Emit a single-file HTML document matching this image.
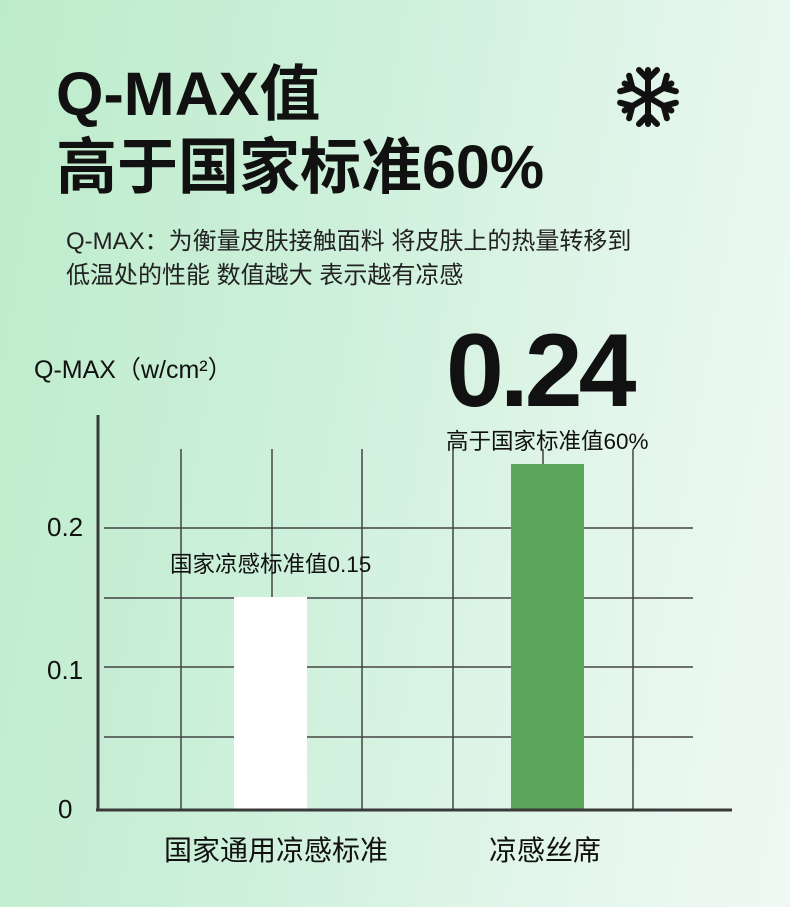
<!DOCTYPE html><html><head><meta charset="utf-8"><style>
body{margin:0;width:790px;height:907px;overflow:hidden;position:relative;font-family:"Liberation Sans","Noto Sans CJK SC",sans-serif;color:#111;
background:linear-gradient(100deg,#bdeccb 0%,#cdf0da 40%,#e4f6ec 75%,#eef9f3 100%);}
.t{position:absolute;white-space:nowrap}
</style></head><body>
<div class="t" style="left:56px;top:58px;font-size:61px;font-weight:bold;line-height:73px">Q-MAX值<br>高于国家标准60%</div>
<div class="t" style="left:66px;top:225px;font-size:24px;line-height:34px;color:#222">Q-MAX：为衡量皮肤接触面料 将皮肤上的热量转移到<br>低温处的性能 数值越大 表示越有凉感</div>
<svg style="position:absolute;left:0;top:0" width="790" height="907">
<g stroke="#111" stroke-width="6" stroke-linecap="round" fill="none" transform="translate(648,97)">
<g id="a"><line x1="0" y1="-27" x2="0" y2="27"/><path d="M-9,-27 L0,-18 L9,-27 M-9,27 L0,18 L9,27"/></g>
<use href="#a" transform="rotate(60)"/><use href="#a" transform="rotate(120)"/></g>
<g stroke="#444" stroke-width="1.5">
<line x1="104" y1="528" x2="693" y2="528"/><line x1="104" y1="598" x2="693" y2="598"/><line x1="104" y1="667" x2="693" y2="667"/><line x1="104" y1="737" x2="693" y2="737"/>
<line x1="181" y1="449" x2="181" y2="809"/><line x1="272" y1="449" x2="272" y2="809"/><line x1="362" y1="449" x2="362" y2="809"/><line x1="453" y1="449" x2="453" y2="809"/><line x1="543" y1="449" x2="543" y2="809"/><line x1="633" y1="449" x2="633" y2="809"/>
</g>
<rect x="234" y="597" width="73" height="212" fill="#fff"/>
<rect x="511" y="464" width="73" height="345" fill="#5aa65a"/>
<g stroke="#3a3a3a" stroke-width="3"><line x1="98" y1="415" x2="98" y2="811"/><line x1="96" y1="810" x2="732" y2="810"/></g>
</svg>
<div class="t" style="left:34px;top:350px;font-size:25px">Q-MAX（w/cm²）</div>
<div class="t" style="left:446px;top:312px;font-size:104px;font-weight:bold;letter-spacing:-4px">0.24</div>
<div class="t" style="left:446px;top:424px;font-size:22.5px">高于国家标准值60%</div>
<div class="t" style="left:170px;top:547px;font-size:22.5px">国家凉感标准值0.15</div>
<div class="t" style="left:47px;top:512px;font-size:26px">0.2</div>
<div class="t" style="left:47px;top:655px;font-size:26px">0.1</div>
<div class="t" style="left:58px;top:794px;font-size:26px">0</div>
<div class="t" style="left:164px;top:829px;font-size:28px">国家通用凉感标准</div>
<div class="t" style="left:489px;top:829px;font-size:28px">凉感丝席</div>
</body></html>
